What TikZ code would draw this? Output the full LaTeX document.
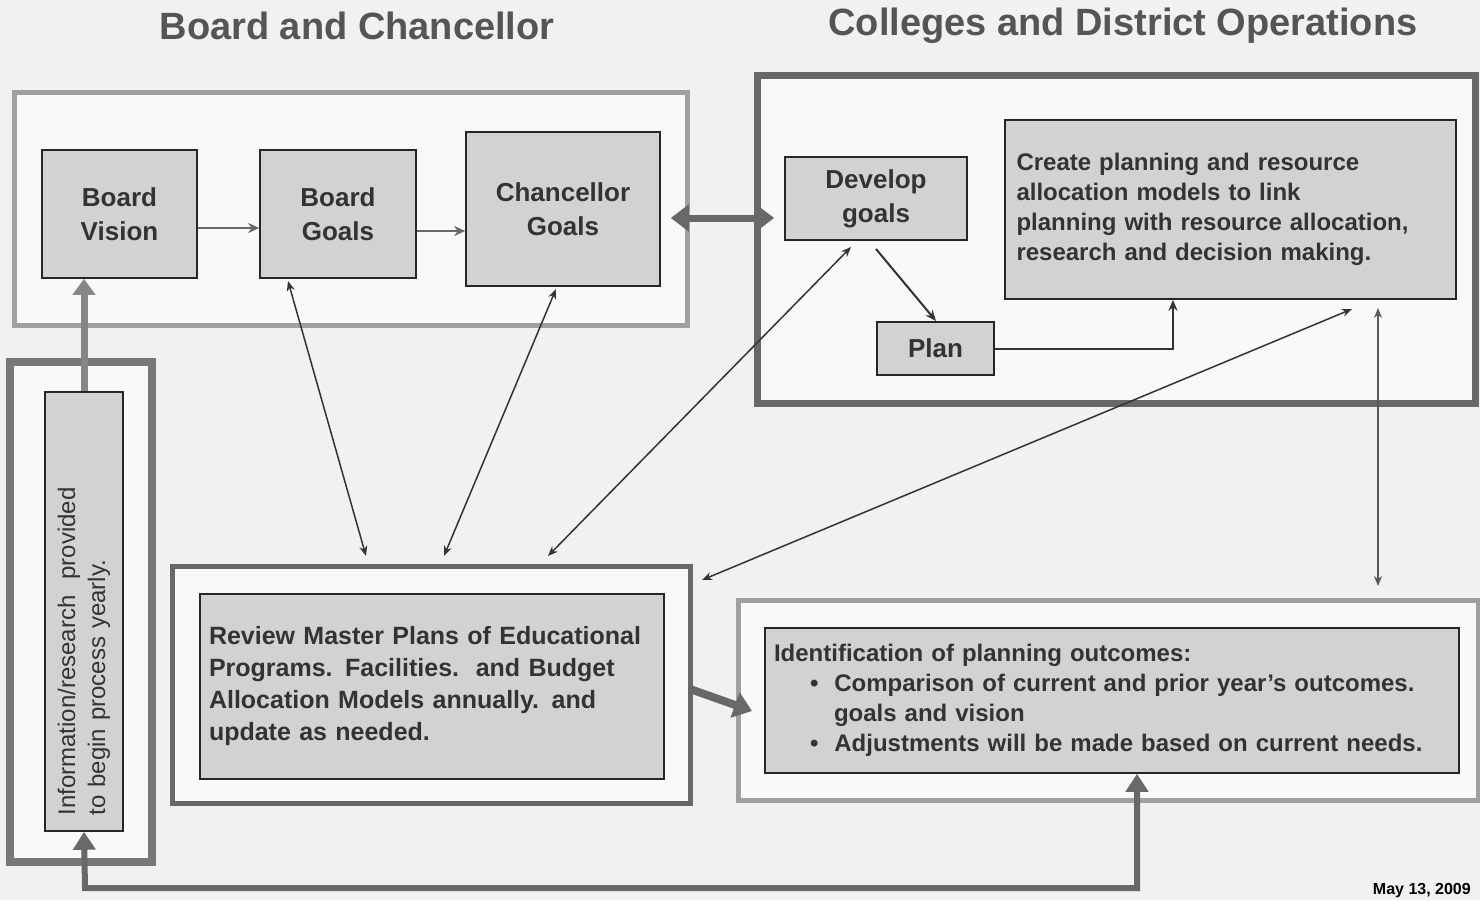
\documentclass[tikz,border=0pt]{standalone}
\usepackage{fontspec}
\setmainfont{Liberation Sans}
\usetikzlibrary{arrows.meta,calc}
\definecolor{bg}{HTML}{F1F1F1}
\definecolor{boxfill}{HTML}{D2D2D2}
\definecolor{lightframe}{HTML}{A0A0A0}
\definecolor{darkframe}{HTML}{686868}
\definecolor{txt}{HTML}{333333}
\definecolor{title}{HTML}{555555}
\tikzset{
  frame/.style={draw=lightframe, line width=5pt, fill=white!60!bg, inner sep=0pt},
  darkfr/.style={draw=darkframe, line width=7pt, fill=white!60!bg, inner sep=0pt},
  gbox/.style={draw=black!85, line width=1.6pt, fill=boxfill, inner sep=4pt, text=txt, font=\bfseries\fontsize{26}{34}\selectfont, align=center},
  thinarr/.style={draw=black!80, line width=1.5pt, {Stealth[length=10pt,width=8pt]}-{Stealth[length=10pt,width=8pt]}},
  onearr/.style={draw=black!80, line width=2pt, -{Stealth[length=11pt,width=9pt]}},
  fatline/.style={draw=darkframe, line width=6pt},
}
\begin{document}
\begin{tikzpicture}[x=1pt,y=-1pt]
\useasboundingbox (0,0) rectangle (1480,900);
\fill[bg] (0,0) rectangle (1480,900);
% titles
\node[font=\bfseries\fontsize{38}{44}\selectfont, text=title] (t1) at (357,26) {Board and Chancellor};
\node[font=\bfseries\fontsize{38}{44}\selectfont, text=title] (t2) at (1123,26) {Colleges and District Operations};
% outer frames
\node[frame, minimum width=673pt, minimum height=233pt] (leftout) at (350.5,208.5) {};
\node[darkfr, minimum width=718pt, minimum height=328pt] (rightout) at (1116,239) {};
\node[darkfr, draw=darkframe!90, line width=8pt, minimum width=142pt, minimum height=500pt] (infoout) at (81,612) {};
\node[darkfr, line width=5pt, minimum width=518pt, minimum height=237pt] (revout) at (431,684.5) {};
\node[frame, minimum width=740pt, minimum height=200pt] (idout) at (1108,700) {};
% inner boxes
\node[gbox, minimum width=155pt, minimum height=128pt] (bv) at (119.5,214) {Board\\Vision};
\node[gbox, minimum width=156pt, minimum height=128pt] (bg) at (338,214) {Board\\Goals};
\node[gbox, minimum width=194pt, minimum height=154pt] (cg) at (563,209) {Chancellor\\Goals};
\node[gbox, minimum width=182pt, minimum height=83pt] (dg) at (876,198.5) {Develop\\goals};
\node[gbox, minimum width=451pt, minimum height=179pt, text width=428pt, align=left, font=\bfseries\fontsize{24}{30}\selectfont] (cr) at (1230.5,209.5) {Create planning and resource\\allocation models to link\\planning with resource allocation,\\research and decision making.\\[14pt]};
\node[gbox, minimum width=117pt, minimum height=53pt] (plan) at (935.5,348.5) {Plan};
\node[gbox, minimum width=439pt, minimum height=78pt, text width=408pt, align=left, font=\fontsize{24}{30}\selectfont, rotate=90] (infoin) at (84,611.5) {Information/research\ \ provided\\to begin process yearly.};
\node[gbox, minimum width=464pt, minimum height=185pt, text width=446pt, align=left, font=\bfseries\fontsize{25}{32}\selectfont] (revin) at (432,686.5) {Review Master Plans of Educational\\Programs. Facilities.\ \ and Budget\\Allocation Models annually. and\\update as needed.};
\node[gbox, minimum width=694pt, minimum height=145pt, text width=676pt, align=left, font=\bfseries\fontsize{24}{30}\selectfont] (idin) at (1112,700.5) {Identification of planning outcomes:\\
\hspace*{36pt}\textbullet\ \ Comparison of current and prior year's outcomes.\\
\hspace*{60pt}goals and vision\\
\hspace*{36pt}\textbullet\ \ Adjustments will be made based on current needs.};
% horizontal arrows top-left
\draw[draw=darkframe, line width=2.5pt, -{Stealth[length=11pt,width=10pt]}] ([yshift=-14pt]bv.east) -- ([yshift=-14pt]bv.east -| bg.west);
\draw[draw=darkframe, line width=2.5pt, -{Stealth[length=11pt,width=10pt]}] ([yshift=-17pt]bg.east) -- ([yshift=-17pt]bg.east -| cg.west);
% big double arrow
\draw[draw=darkframe, line width=7pt, {Triangle[length=18pt,width=26pt]}-{Triangle[length=18pt,width=26pt]}] ([xshift=10pt,yshift=-9pt]cg.east) -- ([xshift=-10pt,yshift=-9pt]cg.east -| dg.west);
% right block internal arrows
\coordinate (dgb) at (876,249);
\coordinate (plt) at (936,321);
\draw[onearr] (dgb) -- (plt);
\draw[onearr] (plan.east) -| ([xshift=-57.5pt]cr.south);
% thin double arrows
\coordinate (a1s) at (288,281);
\coordinate (a1e) at (366,556);
\coordinate (a2s) at (556,289);
\coordinate (a2e) at (444,556);
\coordinate (a3s) at (851,247);
\coordinate (a3e) at (548,556);
\coordinate (a4s) at (1352,309);
\coordinate (a4e) at (702,580);
\coordinate (a5s) at (1378,308);
\coordinate (a5e) at (1378,586);
\draw[thinarr] (a1s) -- (a1e);
\draw[thinarr] (a2s) -- (a2e);
\draw[thinarr] (a3s) -- (a3e);
\draw[thinarr] (a4s) -- (a4e);
\draw[thinarr, line width=1.2pt, draw=black!65] (a5s) -- (a5e);
% info to board vision
\draw[draw=darkframe!80, line width=7pt, -{Triangle[length=16pt,width=22pt]}] (infoin.east) -- (infoin.east |- bv.south);
% review to identification
\coordinate (ra) at (690,689);
\coordinate (rb) at (752,711);
\draw[draw=darkframe, line width=8pt, -{Triangle[length=18pt,width=26pt]}] (ra) -- (rb);
% bottom loop
\coordinate (loopR) at (1137,888);
\coordinate (loopL) at (85,888);
\draw[fatline, {Triangle[length=18pt,width=22pt]}-{Triangle[length=18pt,width=22pt]}] (loopR |- idin.south) -- (loopR) -- (loopL) -- (infoin.west);
% date
\node[font=\bfseries\fontsize{16}{18}\selectfont, anchor=south east, inner sep=1pt] (date) at (1472,899) {May 13, 2009};
\end{tikzpicture}
\end{document}
